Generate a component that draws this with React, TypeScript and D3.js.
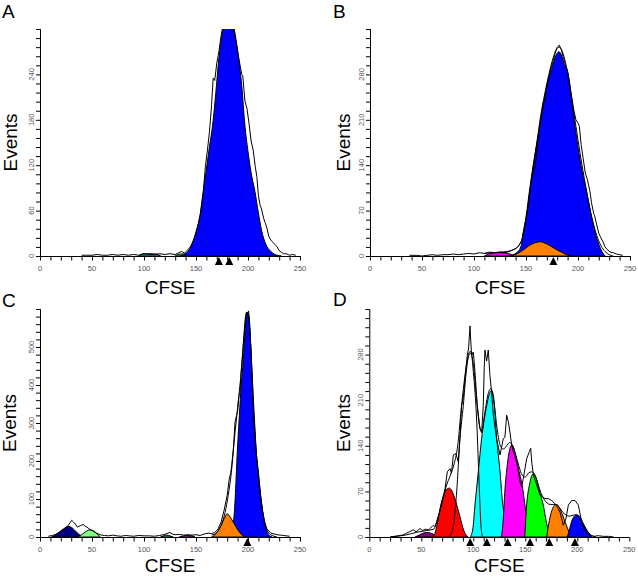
import React from "react";
import * as d3 from "d3";

type P = [number, number];

// ---------- tick labels ----------
const xTickLabels = [0, 50, 100, 150, 200, 250];
const yLabelsA = [0, 60, 120, 180, 240];
const yLabelsB = [0, 70, 140, 210, 280];
const yLabelsC = [0, 100, 200, 300, 400, 500];
const yLabelsD = [0, 70, 140, 210, 280];

// ---------- Panel A ----------
const rawA: P[] = [[40,1],[45,1],[50,1],[55,2],[60,1],[65,1],[70,2],[75,1],[80,2],[85,1],[90,2],[95,1],[100,3],[105,2],[110,2],[115,3],[120,2],[125,3],[130,2],[133,4],[136,6],[139,4],[142,8],[145,13],[148,22],[151,35],[154,55],[157,85],[159,118],[161,140],[163,165],[165,200],[166.5,235],[168,232],[170,255],[172,270],[174,290],[176,305],[178,315],[180,320],[182,318],[184,310],[186,300],[188,285],[190,270],[192,255],[194,240],[195,238],[197,205],[199,195],[201,175],[203,152],[205,140],[207,118],[208.5,105],[210,80],[211.5,68],[213,62],[215,50],[216.5,44],[218,38],[220,26],[222,21],[224,18],[226,15],[228,12],[230,7],[232,5],[234,3],[237,3],[240,1],[243,2],[246,1]];
const blueA: P[] = [[135,0],[140,3],[145,12],[150,32],[155,62],[157,85],[160,115],[163,145],[166,173],[169,215],[172,261],[175,292],[178,312],[181,320],[184,315],[187,298],[190,272],[192,250],[194,225],[197,173],[200,138],[203,110],[206.7,85],[210,57],[213,34],[217,16],[222,6],[228,1],[232,0]];
const tealA: P[] = [[95,0],[98,2.5],[105,3],[112,2.5],[116,0]];
const greenA: P[] = [[130,0],[134,2.5],[146,3],[158,2.5],[162,0]];
const markersA = [172, 182];

// ---------- Panel B ----------
const rawB: P[] = [[38,1],[45,1],[50,0],[55,1],[60,2],[65,1],[70,2],[75,2],[80,3],[85,2],[90,3],[95,4],[100,3],[105,5],[110,4],[115,6],[120,5],[125,6],[130,5],[134,7],[137,9],[140,11],[143,16],[146,24],[149,48],[152,75],[155,115],[158.7,140],[160,152],[162,185],[164,210],[166.7,238],[168,240],[170,262],[172,275],[174,290],[176,300],[178,312],[180,322],[182,325],[184,318],[186,305],[188,295],[190,285],[192,265],[194,245],[196,225],[198,210],[200,205],[201.3,200],[203,172],[205,150],[207,128],[209,118],[211.5,99],[213,82],[215,66],[216,62],[218,48],[220,35],[222,28],[224,22],[226,14],[228,10],[231,6],[234,5],[237,3],[240,2],[243,1]];
const modelB: P[] = [[110,4],[118,5],[125,6],[132,7],[138,10],[143,16],[147,30],[150,55],[153,90],[156,128],[160,170],[164,215],[168,250],[172,280],[176,305],[179,318],[182,322],[185,315],[188,298],[191,272],[194,240],[198,200],[202,158],[206,120],[210,85],[214,55],[218,32],[222,16],[226,7],[230,2],[234,0]];
const blueB: P[] = [[134,0],[140,4],[145,14],[147.4,37],[150,60],[153.2,99],[157,140],[160,170],[163.5,202],[167,235],[170,262],[173,279],[176,296],[179,310],[181.7,315],[184,310],[187,295],[190.7,279],[194,240],[197,202],[200,168],[204,130],[208.3,99],[212,68],[216.3,37],[220,18],[223,7],[226,0]];
const orangeB: P[] = [[136,0],[142,4],[148,10],[153,16],[158,20],[163.5,22],[168,20],[173,16],[178,11],[184,6],[189,2],[194,0]];
const magentaB: P[] = [[110,0],[114,3],[120,5],[126,5],[132,4],[137,2],[141,0]];
const markersB = [176.3];

// ---------- Panel C ----------
const rawC: P[] = [[8,2],[12,4],[16,8],[20,15],[24,22],[27,30],[29,38],[30.5,44],[32,40],[34,34],[36,26],[37.5,28],[39,30],[41.7,33],[43,29],[45,26],[47,22],[49,18],[51,16],[53,12],[56,8],[59,5],[62,4],[66,3],[70,5],[74,3],[78,2],[82,4],[86,3],[90,2],[95,4],[100,3],[105,3],[110,2],[115,4],[120,7],[123,10],[125,12],[127,8],[130,6],[134,7],[138,5],[142,6],[146,5],[150,6],[154,4],[158,8],[162,10],[165,9],[168,12],[171,20],[174,38],[177,70],[180,110],[182,153],[183.5,170],[184.3,188],[186,235],[187.5,302],[189,320],[190,330],[191.3,372],[192.3,380],[193,420],[194.5,470],[196,530],[197.5,580],[198.5,592],[199.5,585],[200.5,595],[201.5,570],[203,480],[204.5,400],[206,320],[208,220],[210,160],[212,110],[214,70],[216,40],[218,22],[220,16],[222,10],[225,8],[228,6],[231,5],[234,4],[237,3],[240,2]];
const modelC: P[] = [[165,5],[170,12],[174,30],[178,65],[181,110],[184,170],[187,260],[190,340],[193,420],[196,520],[199,590],[202,535],[205,350],[208,220],[211,130],[214,68],[217,28],[220,10],[224,3],[228,0]];
const blueC: P[] = [[180,0],[183,8],[185,25],[187,70],[188.5,150],[190,240],[191.3,300],[193,380],[195,450],[196.8,521],[198,572],[199.4,591],[201,575],[202.2,521],[204,420],[205,346],[207,250],[210,171],[212,115],[214,66],[216,35],[218,15],[220,5],[223,0]];
const orangeC: P[] = [[165,0],[168,5],[171,15],[174,30],[177,48],[180,61],[183,52],[186,38],[189,24],[192,12],[195,3],[197,0]];
const navyC: P[] = [[11,0],[15,6],[19,14],[23,22],[27,28],[31,24],[35,13],[38.5,5],[42,0]];
const lightGreenC: P[] = [[36,0],[40,6],[44,14],[48,19],[52,15],[55,8],[58,0]];
const tealC: P[] = [[116,0],[119,3],[122,5],[125,3],[128,0]];
const purpleC: P[] = [[134,0],[138,3],[142,4],[146,3],[149,0]];
const markersC = [199.4];

// ---------- Panel D ----------
const rawD: P[] = [[20,0],[24,1],[28,2],[32,3],[36,6],[40,9],[42.4,11],[45,8],[48.8,13],[51,10],[54,12],[57,11],[59,14],[61.5,18],[63,16],[65,24],[67,35],[69,50],[71,62],[72.8,74],[75,100],[77.6,105],[79,98],[80.8,126],[83.3,128],[85.6,115],[87,150],[88.8,202],[90.5,215],[92,243],[94.2,279],[95.5,290],[96.8,324],[97.6,300],[98.4,279],[100,284],[101.6,254],[103.8,202],[106.4,167],[108,160],[109.6,202],[110.5,260],[111.2,287],[112.8,270],[114.4,287],[116,248],[117.6,222],[119.2,187],[122.4,151],[125.7,126],[127.5,140],[128.8,151],[130.4,153],[132.1,187],[133.7,177],[135.3,160],[136.9,141],[138.5,131],[141.7,115],[144.9,85],[146.5,77],[148.1,90],[151.3,120],[153.9,131],[155.2,136],[156.2,115],[157.8,95],[161,80],[164.1,64],[166.5,62],[168.9,59],[172.1,59],[175.4,56],[178.6,51],[181,45],[183.4,38],[186.5,18],[189.1,28],[191.4,49],[194.6,56],[197.8,56],[201,49],[204.2,23],[207.4,8],[212.2,3],[216,1],[220,2],[225,1],[230,1],[235,0]];
const modelD: P[] = [[20,0],[35,3],[45,7],[55,10],[62,12],[66,30],[70,52],[74,78],[78,95],[82,115],[85,140],[88,190],[91,235],[94,270],[97,285],[100,265],[103,215],[106,170],[108,162],[111,190],[114,218],[117,228],[120,205],[123,165],[126,140],[129,135],[132,140],[135,145],[138,140],[141,125],[144,108],[147,95],[150,92],[153,98],[156,100],[159,96],[162,82],[165,68],[168,58],[171,52],[174,50],[177,50],[180,50],[183,45],[186,38],[189,34],[192,32],[195,33],[198,34],[201,31],[204,24],[207,15],[210,8],[214,2],[218,0]];
const purpleD: P[] = [[44,0],[48,3],[52,6],[55.2,7],[59,6],[63,3],[66.4,0]];
const redD: P[] = [[61,0],[63,5],[66.3,28],[69,50],[72,66],[75,74],[77,75],[79,72],[82,60],[85,44],[87.7,28],[90,14],[93,3],[95,0]];
const whiteD: P[] = [[76,0],[80,10],[84,69],[87.2,151],[90.4,202],[93,250],[96,280],[98,282],[100,254],[103.3,177],[105.8,74],[107.5,15],[109,0]];
const cyanD: P[] = [[97,0],[99.5,12],[101.6,49],[104.8,100],[108,151],[112.9,202],[115.5,220],[117.5,225],[119.5,215],[122.5,151],[125.7,100],[128,55],[130.5,28],[133.7,0]];
const magentaD: P[] = [[127,0],[128.5,20],[130.5,74],[133,115],[136.9,141],[140,130],[143,108],[147.5,74],[150,45],[152.5,18],[154.5,0]];
const greenD: P[] = [[149.5,0],[151.3,49],[154,80],[157.7,97],[161,88],[164,68],[167.3,49],[170,25],[172.5,8],[174.4,0]];
const orangeD: P[] = [[170.6,0],[172.5,20],[175,38],[179.5,50],[183,44],[186,33],[189,20],[192,8],[194.6,0]];
const blueD: P[] = [[190.4,0],[192.5,12],[195,26],[199.4,34],[203,30],[206,20],[209,11],[212,4],[213.8,0]];
const markersD = [97, 113, 133, 154.5, 173, 197.7];

const FONT = "'Liberation Sans', Arial, Helvetica, sans-serif";

type Peak = { data: P[]; fill: string };

type PanelProps = {
  id: string;
  letter: string;
  letterPos: [number, number];
  eventsX: number;
  cfseY: number;
  x0: number;
  x1: number;
  yTop: number;
  yBase: number;
  yMax: number;
  yStep: number;
  yLabels: number[];
  peaks: Peak[];
  outlines?: P[][];
  model?: P[];
  raw: P[];
  markers: number[];
};

function Panel(p: PanelProps) {
  const x = d3.scaleLinear().domain([0, 250]).range([p.x0, p.x1]);
  const y = d3.scaleLinear().domain([0, p.yMax]).range([p.yBase, p.yTop]);
  const area = d3
    .area<P>()
    .x((d) => x(d[0]))
    .y0(p.yBase)
    .y1((d) => y(d[1]))
    .curve(d3.curveMonotoneX);
  const smooth = d3
    .line<P>()
    .x((d) => x(d[0]))
    .y((d) => y(d[1]))
    .curve(d3.curveMonotoneX);
  const jag = d3
    .line<P>()
    .x((d) => x(d[0]))
    .y((d) => y(d[1]));
  const xMinor = d3.range(0, 251, 10);
  const yMinor = d3.range(0, p.yMax + 0.001, p.yStep);
  const midY = (p.yTop + p.yBase) / 2;
  const midX = (p.x0 + p.x1) / 2;
  return (
    <g>
      <defs>
        <clipPath id={p.id}>
          <rect x={p.x0} y={p.yTop} width={p.x1 - p.x0 + 2} height={p.yBase - p.yTop + 1} />
        </clipPath>
      </defs>
      <text x={p.letterPos[0]} y={p.letterPos[1]} fontSize={19} fontFamily={FONT} fill="#000">
        {p.letter}
      </text>
      <text
        transform={`translate(${p.eventsX},${midY}) rotate(-90)`}
        textAnchor="middle"
        fontSize={19}
        fontFamily={FONT}
        fill="#000"
      >
        Events
      </text>
      <text x={midX} y={p.cfseY} textAnchor="middle" fontSize={19} fontFamily={FONT} fill="#000">
        CFSE
      </text>
      <g clipPath={`url(#${p.id})`}>
        {p.peaks.map((pk, i) => (
          <path key={i} d={area(pk.data) || ""} fill={pk.fill} stroke="#000" strokeWidth={1} />
        ))}
        {(p.outlines || []).map((o, i) => (
          <path key={"o" + i} d={smooth(o) || ""} fill="none" stroke="#000" strokeWidth={1} />
        ))}
        {p.model && <path d={smooth(p.model) || ""} fill="none" stroke="#000" strokeWidth={1} />}
        <path d={jag(p.raw) || ""} fill="none" stroke="#000" strokeWidth={1} />
      </g>
      <line x1={p.x0} x2={p.x1} y1={p.yBase + 0.5} y2={p.yBase + 0.5} stroke="#000" strokeWidth={1} />
      <line x1={p.x0 + 0.5} x2={p.x0 + 0.5} y1={p.yTop} y2={p.yBase} stroke="#000" strokeWidth={1} />
      {xMinor.map((v) => (
        <line key={"xt" + v} x1={x(v) + 0.5} x2={x(v) + 0.5} y1={p.yBase} y2={p.yBase + 4.5} stroke="#000" strokeWidth={1} />
      ))}
      {yMinor.map((v) => (
        <line key={"yt" + v} x1={p.x0 - 4} x2={p.x0} y1={y(v) + 0.5} y2={y(v) + 0.5} stroke="#000" strokeWidth={1} />
      ))}
      {xTickLabels.map((v) => (
        <text key={"xl" + v} x={x(v)} y={p.yBase + 14.5} textAnchor="middle" fontSize={7.5} fontFamily={FONT} fill="#555">
          {v}
        </text>
      ))}
      {p.yLabels.map((v) => (
        <text
          key={"yl" + v}
          transform={`translate(${p.x0 - 6.5},${y(v)}) rotate(-90)`}
          textAnchor="middle"
          fontSize={7.5}
          fontFamily={FONT}
          fill="#555"
        >
          {v}
        </text>
      ))}
      {p.markers.map((m, i) => {
        const cx = x(m);
        const t = p.yBase + 1;
        return <path key={"m" + i} d={`M${cx},${t}L${cx - 4},${t + 8}L${cx + 4},${t + 8}Z`} fill="#000" />;
      })}
    </g>
  );
}

export default function App() {
  return (
    <svg width={638} height={576} style={{ display: "block", position: "absolute", left: 0, top: 0, background: "#fff" }}>
      <rect width={638} height={576} fill="#fff" />
      <Panel
        id="clipA"
        letter="A"
        letterPos={[2, 18]}
        eventsX={16.5}
        cfseY={293.5}
        x0={40}
        x1={300}
        yTop={29}
        yBase={256}
        yMax={300}
        yStep={12}
        yLabels={yLabelsA}
        peaks={[
          { data: tealA, fill: "#40b0b0" },
          { data: greenA, fill: "#50c050" },
          { data: blueA, fill: "#0000ff" },
        ]}
        raw={rawA}
        markers={markersA}
      />
      <Panel
        id="clipB"
        letter="B"
        letterPos={[333, 18]}
        eventsX={350}
        cfseY={293.5}
        x0={370}
        x1={630}
        yTop={29}
        yBase={256}
        yMax={350}
        yStep={14}
        yLabels={yLabelsB}
        peaks={[
          { data: magentaB, fill: "#ff00ff" },
          { data: blueB, fill: "#0000ff" },
          { data: orangeB, fill: "#ff8000" },
        ]}
        model={modelB}
        raw={rawB}
        markers={markersB}
      />
      <Panel
        id="clipC"
        letter="C"
        letterPos={[2, 307]}
        eventsX={16}
        cfseY={571.5}
        x0={40}
        x1={300}
        yTop={309}
        yBase={537}
        yMax={600}
        yStep={20}
        yLabels={yLabelsC}
        peaks={[
          { data: navyC, fill: "#000080" },
          { data: lightGreenC, fill: "#80ff80" },
          { data: tealC, fill: "#40a0a0" },
          { data: purpleC, fill: "#a040a0" },
          { data: blueC, fill: "#0000ff" },
          { data: orangeC, fill: "#ff8000" },
        ]}
        model={modelC}
        raw={rawC}
        markers={markersC}
      />
      <Panel
        id="clipD"
        letter="D"
        letterPos={[333, 306]}
        eventsX={350}
        cfseY={571.5}
        x0={369.3}
        x1={629.3}
        yTop={309}
        yBase={537}
        yMax={350}
        yStep={14}
        yLabels={yLabelsD}
        peaks={[
          { data: purpleD, fill: "#800080" },
          { data: cyanD, fill: "#00ffff" },
          { data: magentaD, fill: "#ff00ff" },
          { data: greenD, fill: "#00ff00" },
          { data: orangeD, fill: "#ff8000" },
          { data: blueD, fill: "#0000ff" },
          { data: redD, fill: "#ff0000" },
        ]}
        outlines={[whiteD]}
        model={modelD}
        raw={rawD}
        markers={markersD}
      />
    </svg>
  );
}
